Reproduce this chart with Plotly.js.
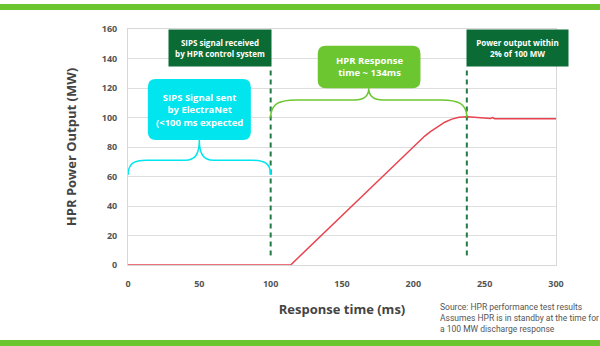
<!DOCTYPE html>
<html>
<head>
<meta charset="utf-8">
<script src="https://cdn.plot.ly/plotly-3.0.1.min.js"></script>
<style>
html,body{margin:0;padding:0;background:#fff;}
#chart{width:600px;height:346px;}
</style>
</head>
<body>
<div id="chart"></div>
<script>
// ---- data ----
const timeMs  = [0, 114, 120, 130, 140, 150, 160, 170, 180, 190, 200, 208, 212, 217, 222, 227, 232, 238, 245, 252, 254, 255.5, 257, 300];
const powerMW = [0, 0, 5.6, 14.9, 24.2, 33.5, 42.8, 52.1, 61.4, 70.7, 80, 87.4, 90.4, 93.9, 96.8, 98.9, 100.1, 100.5, 100.2, 99.5, 99.4, 100.0, 99.2, 99.2];
const xTicks = [0, 50, 100, 150, 200, 250, 300];
const yTicks = [0, 20, 40, 60, 80, 100, 120, 140, 160];
const signalReceivedMs = 100;
const withinTwoPctMs = 237.5;
const receivedLabel = "SIPS signal received<br>by HPR control system";
const withinLabel = "Power output within<br>2% of 100 MW";
const sentLabel = "SIPS Signal sent<br>by ElectraNet<br>(<100 ms expected";
const responseLabel = "HPR Response<br>time ~ 134ms";
const sourceNote = "Source: HPR performance test results<br>Assumes HPR is in standby at the time for<br>a 100 MW discharge response";

// ---- helpers ----
function roundRect(x0, x1, y0, y1, rx, ry) {
  return `M ${x0+rx},${y0} L ${x1-rx},${y0} Q ${x1},${y0} ${x1},${y0+ry} L ${x1},${y1-ry} Q ${x1},${y1} ${x1-rx},${y1} L ${x0+rx},${y1} Q ${x0},${y1} ${x0},${y1-ry} L ${x0},${y0+ry} Q ${x0},${y0} ${x0+rx},${y0} Z`;
}
function brace(x0, x1, yEnd, yBar, yPeak, dxEnd, dxMid, dyMid) {
  const xm = (x0 + x1) / 2;
  return `M ${x0},${yEnd} C ${x0},${yBar-(yBar-yEnd)*0.2} ${x0+dxEnd*0.35},${yBar} ${x0+dxEnd},${yBar}` +
         ` L ${xm-dxMid},${yBar} C ${xm-dxMid*0.3},${yBar} ${xm},${yBar+dyMid} ${xm},${yPeak}` +
         ` C ${xm},${yBar+dyMid} ${xm+dxMid*0.3},${yBar} ${xm+dxMid},${yBar}` +
         ` L ${x1-dxEnd},${yBar} C ${x1-dxEnd*0.35},${yBar} ${x1},${yBar-(yBar-yEnd)*0.2} ${x1},${yEnd}`;
}

const lime = '#6cc630';
const cyan = '#00e5ee';
const darkGreen = '#0b6b34';
const dashGreen = '#237a45';
const tickFont = {family: 'Open Sans, sans-serif', size: 9, color: '#555', weight: 700};

const traces = [{
  x: timeMs, y: powerMW, type: 'scatter', mode: 'lines',
  line: {color: '#e8434f', width: 1.5}, hoverinfo: 'skip', showlegend: false
}];

const layout = {
  width: 600, height: 346,
  margin: {l: 128, r: 44, t: 29, b: 81},
  paper_bgcolor: '#fff', plot_bgcolor: '#fff',
  showlegend: false,
  xaxis: {
    range: [0, 300], tickvals: xTicks, ticktext: xTicks.map(String),
    showgrid: false, zeroline: false, showline: true, mirror: true, linecolor: '#d8d8d8', linewidth: 1,
    ticks: '', tickfont: tickFont, ticklabelstandoff: 10, automargin: false,
    title: {text: 'Response time (ms)', font: {family: 'Open Sans, sans-serif', size: 13, color: '#444', weight: 700}, standoff: 16}
  },
  yaxis: {
    range: [0, 160], tickvals: yTicks, ticktext: yTicks.map(String),
    showgrid: true, gridcolor: '#dedede', gridwidth: 1, zeroline: false,
    showline: true, mirror: true, linecolor: '#d8d8d8', linewidth: 1,
    ticks: '', tickfont: tickFont, ticklabelstandoff: 8, automargin: false,
    title: {text: 'HPR Power Output (MW)', font: {family: 'Open Sans, sans-serif', size: 13, color: '#444', weight: 700}, standoff: 22}
  },
  shapes: [
    // frame bands
    {type: 'rect', xref: 'paper', yref: 'paper', x0: -0.35, x1: 1.15, y0: 1.0805, y1: 1.1059, fillcolor: lime, line: {width: 0}, layer: 'above'},
    {type: 'rect', xref: 'paper', yref: 'paper', x0: -0.35, x1: 1.15, y0: -0.36, y1: -0.3178, fillcolor: lime, line: {width: 0}, layer: 'above'},
    // dashed markers
    {type: 'line', xref: 'x', yref: 'y', x0: signalReceivedMs, x1: signalReceivedMs, y0: 6.5, y1: 133, line: {color: dashGreen, width: 2, dash: '5px,4px'}},
    {type: 'line', xref: 'x', yref: 'y', x0: withinTwoPctMs, x1: withinTwoPctMs, y0: 6.5, y1: 133, line: {color: dashGreen, width: 2, dash: '5px,4px'}},
    // cyan bubble + brace
    {type: 'path', xref: 'x', yref: 'y', path: roundRect(13.9, 86.1, 84.7, 126.1, 5.6, 5.4), fillcolor: cyan, line: {width: 0}},
    {type: 'path', xref: 'x', yref: 'y', path: brace(0, signalReceivedMs, 61, 71, 84.7, 13, 10, 4), line: {color: cyan, width: 1.5}},
    // lime bubble + brace
    {type: 'path', xref: 'x', yref: 'y', path: roundRect(133, 205, 119.8, 148.7, 5.6, 5.4), fillcolor: lime, line: {width: 0}},
    {type: 'path', xref: 'x', yref: 'y', path: brace(signalReceivedMs, withinTwoPctMs, 100, 111.9, 119.8, 18, 10, 3), line: {color: lime, width: 1.5}}
  ],
  annotations: [
    {xref: 'x', yref: 'y', x: signalReceivedMs + 0.7, y: 160, xanchor: 'right', yanchor: 'top', showarrow: false,
     text: receivedLabel, bgcolor: darkGreen, width: 102, height: 36, borderpad: 0, align: 'center', valign: 'middle',
     font: {family: 'Open Sans, sans-serif', size: 8, color: '#fff', weight: 700}},
    {xref: 'x', yref: 'y', x: withinTwoPctMs - 0.3, y: 160, xanchor: 'left', yanchor: 'top', showarrow: false,
     text: withinLabel, bgcolor: darkGreen, width: 101, height: 36, borderpad: 0, align: 'center', valign: 'middle',
     font: {family: 'Open Sans, sans-serif', size: 8, color: '#fff', weight: 700}},
    {xref: 'x', yref: 'y', x: 50, y: 105.4, showarrow: false, text: sentLabel, align: 'center',
     font: {family: 'Open Sans, sans-serif', size: 9.5, color: '#fff', weight: 700}},
    {xref: 'x', yref: 'y', x: 169, y: 134.3, showarrow: false, text: responseLabel, align: 'center',
     font: {family: 'Open Sans, sans-serif', size: 9.5, color: '#fff', weight: 700}},
    {xref: 'paper', yref: 'paper', x: 0.724, y: -0.15, xanchor: 'left', yanchor: 'top', showarrow: false,
     text: sourceNote, align: 'left',
     font: {family: 'Roboto, sans-serif', size: 8.5, color: '#555'}}
  ]
};

Plotly.newPlot('chart', traces, layout, {staticPlot: true, displayModeBar: false});
</script>
</body>
</html>
